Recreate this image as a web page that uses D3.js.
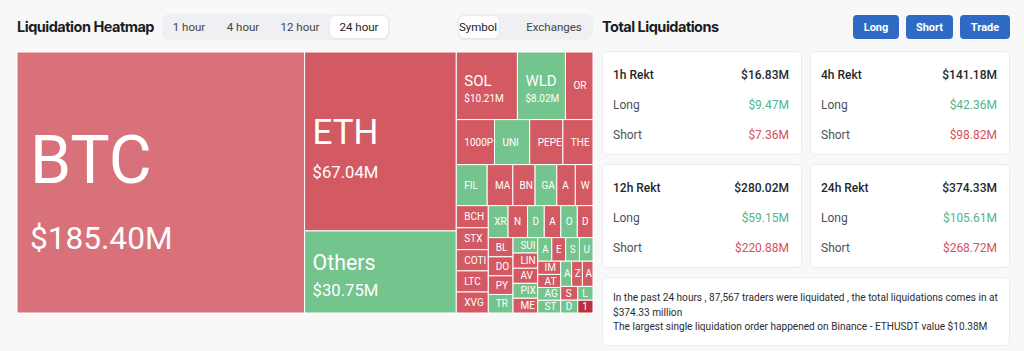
<!DOCTYPE html>
<html>
<head>
<meta charset="utf-8">
<script src="https://cdn.jsdelivr.net/npm/d3@7"></script>
<style>
  body { margin: 0; background: #f8f8f9; }
  svg { display: block; }
</style>
</head>
<body>
<svg id="page" width="1024" height="351"></svg>
<script>
// coins in the heatmap, 24h liquidation amount (M USD), share of it that was shorts (%)
const coins = ['BTC', 'ETH', 'Others', 'SOL', 'WLD', 'ORDI', '1000PEPE', 'UNI', 'PEPE', 'THETA',
  'FIL', 'MATIC', 'BNB', 'GALA', 'ADA', 'WIF', 'BCH', 'STX', 'COTI', 'LTC', 'XVG',
  'XRP', 'NEAR', 'DOT', 'ARB', 'OP', 'DASH', 'BLUR', 'DOGE', 'PYTH', 'TRB',
  'SUI', 'LINK', 'AVAX', 'PIXEL', 'MEME', 'APT', 'ETC', 'SEI', 'USTC',
  'IMX', 'ATOM', 'AGIX', 'STRK', 'ALT', 'ZETA', 'ACE', 'STORJ', 'DYDX', 'LPT', '1000BONK'];
const amounts = [185.40, 67.04, 30.75, 10.21, 8.02, 4.60, 4.25, 3.91, 3.69, 3.35,
  3.13, 2.60, 2.25, 2.20, 1.88, 1.79, 1.75, 1.73, 1.68, 1.67, 1.66,
  1.56, 1.54, 1.32, 1.31, 1.30, 1.24, 1.17, 1.16, 1.14, 1.13,
  0.94, 0.93, 0.92, 0.91, 0.90, 0.82, 0.81, 0.80, 0.79,
  0.75, 0.74, 0.73, 0.72, 0.68, 0.67, 0.66, 0.58, 0.54, 0.52, 0.48];
const shortPct = [62, 78, 30, 78, 28, 78, 78, 28, 78, 78,
  28, 78, 78, 28, 78, 78, 78, 78, 78, 78, 78,
  28, 78, 28, 78, 28, 78, 78, 78, 78, 28,
  28, 78, 78, 28, 78, 28, 78, 28, 28,
  78, 78, 28, 28, 28, 78, 78, 78, 28, 28, 96];

const periods = ['1 hour', '4 hour', '12 hour', '24 hour'];
const groupings = ['Symbol', 'Exchanges'];
const actions = ['Long', 'Short', 'Trade'];

const rektPeriods = ['1h', '4h', '12h', '24h'];
const rektTotal = [16.83, 141.18, 280.02, 374.33];
const rektLong = [9.47, 42.36, 59.15, 105.61];
const rektShort = [7.36, 98.82, 220.88, 268.72];

const summaryLines = [
  'In the past 24 hours , 87,567 traders were liquidated , the total liquidations comes in at',
  '$374.33 million',
  'The largest single liquidation order happened on Binance - ETHUSDT value $10.38M'
];

const uiFont = 'Roboto, "Noto Sans", sans-serif';
const svg = d3.select('#page');
const fmt = v => '$' + v.toFixed(2) + 'M';

// ---------- header left ----------
function heading(x, txt)
{
  svg.append('text')
    .attr('x', x).attr('y', 32)
    .attr('font-family', 'Inter, Roboto, sans-serif')
    .attr('font-weight', 700)
    .attr('font-size', 14.5)
    .attr('letter-spacing', -0.5)
    .attr('fill', '#1b1d22')
    .text(txt);
}

heading(17, 'Liquidation Heatmap');

function segmented(x, w, items, centers, active, pill)
{
  var g = svg.append('g');
  g.append('rect').attr('x', x).attr('y', 14).attr('width', w).attr('height', 26)
    .attr('rx', 7).attr('fill', '#eef0f3');
  g.append('rect').attr('x', pill[0]).attr('y', 16).attr('width', pill[1]).attr('height', 22)
    .attr('rx', 6).attr('fill', '#fff')
    .style('filter', 'drop-shadow(0 1px 1px rgba(0,0,0,0.06))');
  g.selectAll('text.seg')
    .data(items)
    .enter()
    .append('text')
    .attr('class', 'seg')
    .attr('x', (d, i) => centers[i])
    .attr('y', 31)
    .attr('text-anchor', 'middle')
    .attr('font-family', uiFont)
    .attr('font-size', 11.5)
    .attr('fill', (d, i) => i === active ? '#222' : '#444')
    .text(d => d);
}

segmented(162, 228, periods, [189, 243, 300, 359], 3, [330, 58]);
segmented(457, 136, groupings, [478, 554], 0, [459, 40]);

// ---------- header right ----------
heading(602, 'Total Liquidations');

var btnX = [853, 906, 960];
var btnW = [46, 47, 50];
var btn = svg.append('g').selectAll('g')
  .data(actions)
  .enter()
  .append('g');
btn.append('rect')
  .attr('x', (d, i) => btnX[i]).attr('y', 15)
  .attr('width', (d, i) => btnW[i]).attr('height', 24)
  .attr('rx', 4).attr('fill', '#2f6bc5');
btn.append('text')
  .attr('x', (d, i) => btnX[i] + btnW[i] / 2).attr('y', 31)
  .attr('text-anchor', 'middle')
  .attr('font-family', uiFont).attr('font-weight', 700).attr('font-size', 11)
  .attr('fill', '#fff')
  .text(d => d);

// ---------- treemap ----------
const mapX = 17, mapY = 52, mapW = 576, mapH = 261;

var root = d3.hierarchy({children: coins.map((c, i) => ({name: c, value: amounts[i], pct: shortPct[i]}))})
  .sum(d => d.value || 0)
  .sort((a, b) => b.value - a.value);

d3.treemap()
  .tile(d3.treemapSquarify)
  .size([mapW, mapH])
  (root);

var redScale = d3.scaleLinear().domain([55, 78, 96]).range(['#da7b83', '#d35a62', '#bd2f3b']).clamp(true);
var color = p => p < 50 ? '#74c48e' : redScale(p);

var map = svg.append('g').attr('transform', 'translate(' + mapX + ',' + mapY + ')');
var defs = svg.append('defs');

var tiles = map.selectAll('g')
  .data(root.leaves())
  .enter()
  .append('g');

tiles.each(function (d, i) {
  defs.append('clipPath').attr('id', 'clip-' + i)
    .append('rect')
    .attr('x', d.x0).attr('y', d.y0)
    .attr('width', d.x1 - d.x0).attr('height', d.y1 - d.y0);
});

tiles.append('rect')
  .attr('x', d => d.x0).attr('y', d => d.y0)
  .attr('width', d => d.x1 - d.x0).attr('height', d => d.y1 - d.y0)
  .attr('fill', d => color(d.data.pct))
  .attr('stroke', '#fff')
  .attr('stroke-width', 1);

tiles.each(function (d, i) {
  var w = d.x1 - d.x0, h = d.y1 - d.y0;
  var big = Math.min(w, h) >= 46;
  var nameSize = Math.max(big ? 15 : 10, Math.min(0.26 * h, 0.23 * w));
  var pad = Math.min(Math.max(8, 0.045 * w), w * 0.3);
  var g = d3.select(this).append('g').attr('clip-path', 'url(#clip-' + i + ')')
    .attr('font-family', 'Roboto, sans-serif').attr('fill', '#fff');
  var cy = (d.y0 + d.y1) / 2;

  if (big)
  {
    var valueSize = Math.max(10, 0.11 * w);
    var dist = Math.max(nameSize, valueSize * 1.55);
    var blockH = 0.71 * nameSize + dist;
    var top = cy + 0.04 * h - blockH / 2;
    var nameBase = top + 0.71 * nameSize;
    g.append('text').attr('x', d.x0 + pad).attr('y', nameBase)
      .attr('font-size', nameSize).text(d.data.name);
    g.append('text').attr('x', d.x0 + pad).attr('y', nameBase + dist)
      .attr('font-size', valueSize).text(fmt(d.data.value));
  }
  else
  {
    var t = g.append('text').attr('x', d.x0 + pad).attr('y', cy + 0.36 * nameSize)
      .attr('font-size', nameSize).text(d.data.name);
    // cut the label to the tile, as the clipped cells do
    var s = d.data.name;
    while (s.length > 1 && t.node().getComputedTextLength() > w - pad - 1)
    {
      s = s.slice(0, -1);
      t.text(s);
    }
  }
});

// ---------- rekt cards ----------
var cardX = [602, 810, 602, 810];
var cardY = [51, 51, 164, 164];
var cardW = 200, cardH = 104;

var cards = svg.append('g').selectAll('g')
  .data(rektPeriods)
  .enter()
  .append('g')
  .attr('transform', (d, i) => 'translate(' + cardX[i] + ',' + cardY[i] + ')');

cards.append('rect')
  .attr('x', 0.5).attr('y', 0.5).attr('width', cardW - 1).attr('height', cardH - 1)
  .attr('rx', 5).attr('fill', '#fff').attr('stroke', '#ebecef');

var rows = [
  {label: d => d + ' Rekt', value: i => rektTotal[i], color: '#26282c', weight: 500, dy: 28},
  {label: () => 'Long', value: i => rektLong[i], color: '#52b48c', weight: 400, dy: 58},
  {label: () => 'Short', value: i => rektShort[i], color: '#d6505c', weight: 400, dy: 88}
];

rows.forEach(r => {
  cards.append('text')
    .attr('x', 11).attr('y', r.dy)
    .attr('font-family', uiFont).attr('font-size', 12)
    .attr('font-weight', r.weight)
    .attr('fill', r.weight === 500 ? '#26282c' : '#4d5057')
    .text(d => r.label(d));
  cards.append('text')
    .attr('x', cardW - 13).attr('y', r.dy)
    .attr('text-anchor', 'end')
    .attr('font-family', uiFont).attr('font-size', 12)
    .attr('font-weight', r.weight)
    .attr('fill', r.color)
    .text((d, i) => fmt(r.value(i)));
});

// ---------- summary ----------
svg.append('rect')
  .attr('x', 602.5).attr('y', 277.5).attr('width', 407).attr('height', 68)
  .attr('rx', 5).attr('fill', '#fff').attr('stroke', '#ebecef');

svg.append('g').selectAll('text')
  .data(summaryLines)
  .enter()
  .append('text')
  .attr('x', 613)
  .attr('y', (d, i) => 301 + i * 14.5)
  .attr('font-family', uiFont).attr('font-size', 10.1)
  .attr('fill', '#2b2d31')
  .text(d => d);
</script>
</body>
</html>
